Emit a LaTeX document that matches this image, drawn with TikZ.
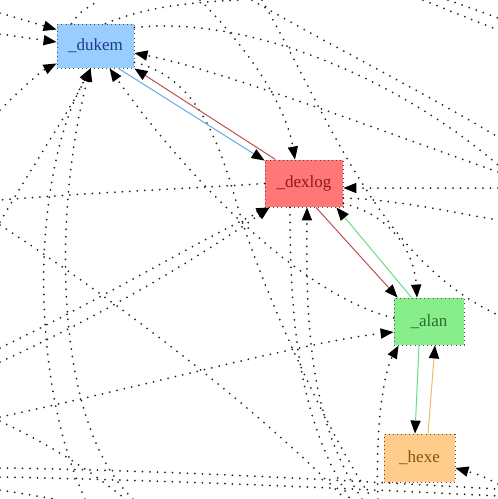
\documentclass[tikz,border=0pt]{standalone}
\usepackage{fontspec}
\setmainfont{Liberation Serif}
\usetikzlibrary{arrows.meta, positioning}

\definecolor{dukemfill}{HTML}{99CCFF}
\definecolor{dukemtext}{HTML}{1F3A8A}
\definecolor{dexlogfill}{HTML}{FF7777}
\definecolor{dexlogtext}{HTML}{8B1A1A}
\definecolor{alanfill}{HTML}{88EE8C}
\definecolor{alantext}{HTML}{2A6B2A}
\definecolor{hexefill}{HTML}{FFCC8C}
\definecolor{hexetext}{HTML}{7A5A00}
\definecolor{redline}{HTML}{C05050}
\definecolor{blueline}{HTML}{66AAE6}
\definecolor{greenline}{HTML}{66DD80}
\definecolor{orangeline}{HTML}{F0BB66}

\begin{document}
\begin{tikzpicture}[x=1pt, y=-1pt,
	person/.style={rectangle, inner sep=0pt, draw=black!70, line width=0.9pt,
		dash pattern=on 0.9pt off 3.2pt, font=\fontsize{17}{20}\selectfont},
	offedge/.style={black!85, line width=2pt, line cap=round, dash pattern=on 0pt off 7.5pt},
	mainedge/.style={line width=1pt},
	headin/.style={-{Triangle[length=13pt, width=10.5pt, color=black, line width=0pt]}}]
	\useasboundingbox (0,0) rectangle (498,499);

	\node[person, fill=dukemfill, text=dukemtext, minimum width=77pt, minimum height=44pt] (dukem) at (95.5,46) {\_dukem};
	\node[person, fill=dexlogfill, text=dexlogtext, minimum width=78pt, minimum height=47pt] (dexlog) at (304,183.5) {\_dexlog};
	\node[person, fill=alanfill, text=alantext, minimum width=70pt, minimum height=47pt] (alan) at (429,321.5) {\_alan};
	\node[person, fill=hexefill, text=hexetext, minimum width=71pt, minimum height=48pt] (hexe) at (419.5,458) {\_hexe};

	\coordinate (w1) at (0,13);
	\coordinate (w2) at (0,34);
	\coordinate (w3) at (0,110);
	\coordinate (w4) at (0,222);
	\coordinate (w5) at (0,200);
	\coordinate (w6) at (0,348);
	\coordinate (w7) at (0,362);
	\coordinate (w8) at (0,417);
	\coordinate (w9) at (0,225);
	\coordinate (w10) at (0,421);
	\coordinate (w11) at (0,468);
	\coordinate (w12) at (0,477);
	\coordinate (w13) at (0,490);
	\coordinate (n1) at (100,0);
	\coordinate (n2) at (240,0);
	\coordinate (n3) at (200,0);
	\coordinate (n4) at (252,0);
	\coordinate (n5) at (262,0);
	\coordinate (n6) at (423,0);
	\coordinate (n7) at (448,0);
	\coordinate (e1) at (498,172);
	\coordinate (e2) at (498,165);
	\coordinate (e3) at (498,188);
	\coordinate (e4) at (498,220);
	\coordinate (e5) at (498,137);
	\coordinate (e6) at (498,315);
	\coordinate (e7) at (498,30);
	\coordinate (e8) at (498,18);
	\coordinate (e9) at (498,484);
	\coordinate (e10) at (498,489);
	\coordinate (e11) at (498,496);
	\coordinate (s1) at (85,499);
	\coordinate (s2) at (133,499);
	\coordinate (s3) at (372,499);
	\coordinate (s4) at (362,499);
	\coordinate (s5) at (350,499);
	\coordinate (s6) at (378,499);
	\coordinate (s7) at (345,499);
	\coordinate (s8) at (125,499);
	\coordinate (s9) at (55,499);

	\draw[offedge, headin] (w1) -- ([yshift=-6pt]dukem.north west);
	\draw[offedge, headin] (w2) -- ([yshift=4pt]dukem.west);
	\draw[offedge, headin] (w3) .. controls (20,90) and (40,72) .. ([yshift=5pt]dukem.south west);
	\draw[offedge, headin] (w4) .. controls (30,170) and (70,110) .. ([xshift=34pt]dukem.south west);
	\draw[offedge, headin] (s1) .. controls (30,380) and (30,180) .. ([xshift=34pt]dukem.south west);
	\draw[offedge, headin] (s2) .. controls (50,420) and (55,200) .. ([xshift=34pt]dukem.south west);
	\draw[offedge, headin] ([yshift=3.5pt]alan.west) .. controls (300,295) and (185,175) .. ([xshift=53pt]dukem.south west);
	\draw[offedge, headin] (e1) .. controls (380,130) and (220,70) .. ([yshift=-7pt]dukem.east);
	\draw[offedge] ([xshift=15pt]dukem.north west) .. controls (80,12) .. (n1);
	\draw[offedge] ([xshift=-29pt]dukem.north east) .. controls (150,5) and (200,2) .. (n2);
	\draw[offedge] ([yshift=-4pt]dukem.north east) .. controls (250,15) and (400,80) .. (e2);
	\draw[offedge] ([yshift=6pt]dukem.south east) .. controls (210,80) and (225,170) .. (245,230)
		.. controls (265,290) and (320,420) .. (s3);

	\draw[offedge, headin] (n3) .. controls (240,40) and (285,100) .. ([xshift=-9pt]dexlog.north);
	\draw[offedge] (dexlog.west) .. controls (200,188) and (100,192) .. (w5);
	\draw[offedge, headin] (e3) -- ([yshift=-4.5pt]dexlog.east);
	\draw[offedge, headin] (w6) .. controls (100,300) and (200,240) .. ([xshift=5pt]dexlog.south west);
	\draw[offedge, headin] (w7) .. controls (110,312) and (210,250) .. ([xshift=5pt]dexlog.south west);
	\draw[offedge, headin] (s4) .. controls (310,420) and (306,330) .. ([xshift=3pt]dexlog.south);
	\draw[offedge] ([xshift=-14pt]dexlog.south) .. controls (290,330) and (300,420) .. (s5);
	\draw[offedge] ([yshift=-14.5pt]dexlog.east) .. controls (400,200) and (450,212) .. (e4);
	\draw[offedge, headin] ([yshift=4pt]dexlog.south east) .. controls (390,215) and (414,250) .. ([xshift=-12pt]alan.north);

	\draw[offedge] (n4) .. controls (320,40) and (420,90) .. (e5);
	\draw[offedge] (n5) .. controls (330,120) and (380,260) .. (e6);
	\draw[offedge] (n6) -- (e7);
	\draw[offedge] (n7) -- (e8);

	\draw[offedge, headin] (w8) .. controls (150,385) and (300,343) .. ([yshift=-10.5pt]alan.west);
	\draw[offedge, headin] (s6) .. controls (375,420) and (385,370) .. ([xshift=5pt]alan.south west);
	\draw[offedge, headin] (e9) .. controls (480,475) .. ([yshift=-10pt]hexe.east);

	\draw[offedge] (w9) .. controls (100,290) and (250,400) .. (s7);
	\draw[offedge] (w10) .. controls (50,445) and (90,470) .. (s8);
	\draw[offedge] (w11) .. controls (150,470) and (300,478) .. (e10);
	\draw[offedge] (w12) .. controls (150,480) and (300,486) .. (e11);
	\draw[offedge] (w13) -- (s9);

	\draw[mainedge, redline, headin] ([xshift=11pt]dexlog.north west) -- (dukem.south east);
	\draw[mainedge, blueline, headin] ([xshift=-16pt]dukem.south east) -- ([yshift=-1pt]dexlog.north west);
	\draw[mainedge, redline, headin] ([xshift=12pt]dexlog.south) -- ([xshift=4pt]alan.north west);
	\draw[mainedge, greenline, headin] ([xshift=18pt]alan.north west) -- ([xshift=-7pt]dexlog.south east);
	\draw[mainedge, greenline, headin] ([xshift=-10pt]alan.south) -- ([xshift=-4.5pt]hexe.north);
	\draw[mainedge, orangeline, headin] ([xshift=8.5pt]hexe.north) -- ([xshift=6pt]alan.south);
\end{tikzpicture}
\end{document}
